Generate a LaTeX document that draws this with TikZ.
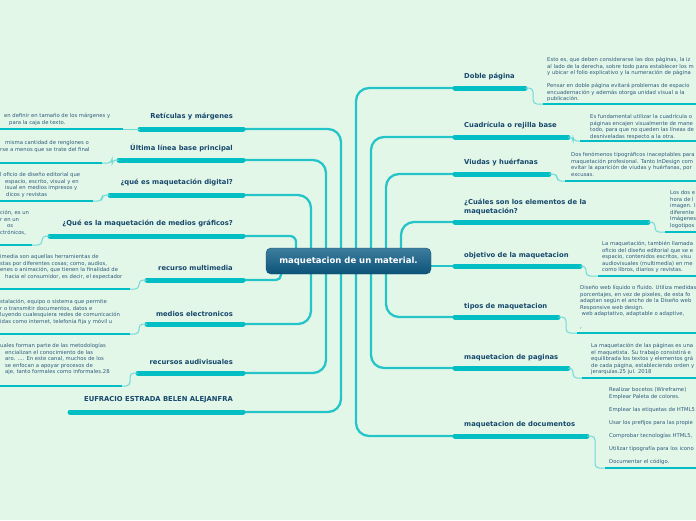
\documentclass[tikz,border=0pt]{standalone}
\usepackage{fontspec}
\setmainfont{DejaVu Sans}
\usepackage{tikz}
\usetikzlibrary{calc, backgrounds}
\definecolor{bgmint}{RGB}{227,247,233}
\definecolor{barteal}{RGB}{0,190,196}
\definecolor{branchteal}{RGB}{36,196,201}
\definecolor{twigteal}{RGB}{110,218,216}
\definecolor{topicblue}{RGB}{22,72,108}
\definecolor{noteblue}{RGB}{46,90,122}
\definecolor{roottop}{RGB}{62,126,158}
\definecolor{rootbot}{RGB}{12,82,120}

\begin{document}
\begin{tikzpicture}[x=1pt, y=-1pt,
  root/.style={rectangle, rounded corners=5pt, minimum width=165pt, minimum height=26pt, top color=roottop, bottom color=rootbot, draw=rootbot, text=white, font=\fontsize{8.5}{10}\selectfont\bfseries},
  topic/.style={inner sep=0pt, text=topicblue, font=\fontsize{6.8}{9}\selectfont\bfseries, align=left},
  note/.style={inner sep=0pt, anchor=north west, text=noteblue, font=\fontsize{5.3}{6.5}\selectfont, align=left},
  bar/.style={line width=5pt, line cap=round, barteal},
  branch/.style={line width=2.3pt, branchteal, rounded corners=13pt},
  twig/.style={line width=1pt, twigteal, rounded corners=4pt},
  uline/.style={line width=1.8pt, barteal}
]
\useasboundingbox (0,0) rectangle (696,520);

% Bar ends, right side
\coordinate (dp-l) at (455,88);  \coordinate (dp-r) at (525,88);  \coordinate (dp-u) at (543,104);
\coordinate (cu-l) at (455,137); \coordinate (cu-r) at (568,137); \coordinate (cu-u) at (580,141);
\coordinate (vh-l) at (455,174); \coordinate (vh-r) at (549,174); \coordinate (vh-u) at (565,181);
\coordinate (el-l) at (455,222); \coordinate (el-r) at (648,222); \coordinate (el-u) at (665,232);
\coordinate (ob-l) at (455,266); \coordinate (ob-r) at (580,266); \coordinate (ob-u) at (598,276);
\coordinate (ti-l) at (455,317); \coordinate (ti-r) at (558,317); \coordinate (ti-u) at (577,333);
\coordinate (mp-l) at (455,368); \coordinate (mp-r) at (568,368); \coordinate (mp-u) at (582,378);
\coordinate (md-l) at (455,436); \coordinate (md-r) at (587,436); \coordinate (md-u) at (605,468);

% Bar ends, left side
\coordinate (rm-l) at (140,129);  \coordinate (rm-r) at (243,129);  \coordinate (rm-u) at (123,129);
\coordinate (ul-l) at (119,160);  \coordinate (ul-r) at (243,160);  \coordinate (ul-u) at (102,163);
\coordinate (qd-l) at (110,195);  \coordinate (qd-r) at (243,195);  \coordinate (qd-u) at (93,201);
\coordinate (qg-l) at (50,236);   \coordinate (qg-r) at (243,236);  \coordinate (qg-u) at (32,245);
\coordinate (rmu-l) at (147,280); \coordinate (rmu-r) at (243,280); \coordinate (rmu-u) at (130,289);
\coordinate (me-l) at (147,324);  \coordinate (me-r) at (243,324);  \coordinate (me-u) at (130,334);
\coordinate (ra-l) at (138,373);  \coordinate (ra-r) at (243,373);  \coordinate (ra-u) at (122,386);
\coordinate (au-l) at (70,412);   \coordinate (au-r) at (243,412);

% Central node
\node[root] (root) at (348.5,261) {maquetacion de un material.};

% Branches from the centre
\begin{scope}[on background layer]
\fill[bgmint] (0,0) rectangle (696,520);
\draw[branch] ([xshift=7.5pt]root.north) |- (dp-l);
\draw[branch] ([xshift=22.5pt]root.north) |- (cu-l);
\draw[branch] ([xshift=37.5pt]root.north) |- (vh-l);
\draw[branch] ([xshift=52.5pt]root.north) |- (el-l);
\draw[branch] (root.east |- ob-l) -- (ob-l);
\draw[branch] ([xshift=37.5pt]root.south) |- (ti-l);
\draw[branch] ([xshift=22.5pt]root.south) |- (mp-l);
\draw[branch] ([xshift=7.5pt]root.south) |- (md-l);
\draw[branch] ([xshift=-7.5pt]root.north) |- (rm-r);
\draw[branch] ([xshift=-22.5pt]root.north) |- (ul-r);
\draw[branch] ([xshift=-37.5pt]root.north) |- (qd-r);
\draw[branch, rounded corners=6pt] ([xshift=-52.5pt]root.north) |- (qg-r);
\draw[branch, rounded corners=5pt] ([xshift=-67.5pt]root.south) |- (rmu-r);
\draw[branch] ([xshift=-37.5pt]root.south) |- (me-r);
\draw[branch] ([xshift=-22.5pt]root.south) |- (ra-r);
\draw[branch] ([xshift=-7.5pt]root.south) |- (au-r);
\end{scope}

% Topic bars
\draw[bar] (dp-l) -- (dp-r);
\draw[bar] (cu-l) -- (cu-r);
\draw[bar] (vh-l) -- (vh-r);
\draw[bar] (el-l) -- (el-r);
\draw[bar] (ob-l) -- (ob-r);
\draw[bar] (ti-l) -- (ti-r);
\draw[bar] (mp-l) -- (mp-r);
\draw[bar] (md-l) -- (md-r);
\draw[bar] (rm-l) -- (rm-r);
\draw[bar] (ul-l) -- (ul-r);
\draw[bar] (qd-l) -- (qd-r);
\draw[bar] (qg-l) -- (qg-r);
\draw[bar] (rmu-l) -- (rmu-r);
\draw[bar] (me-l) -- (me-r);
\draw[bar] (ra-l) -- (ra-r);
\draw[bar] (au-l) -- (au-r);

% Bars to notes
\draw[twig] (dp-r) -- ++(8,0) |- (dp-u);
\draw[twig] (cu-r) -- ++(5,0) |- (cu-u);
\draw[twig] (vh-r) -- ++(8,0) |- (vh-u);
\draw[twig] (el-r) -- ++(7,0) |- (el-u);
\draw[twig] (ob-r) -- ++(6,0) |- (ob-u);
\draw[twig] (ti-r) -- ++(8,0) |- (ti-u);
\draw[twig] (mp-r) -- ++(5,0) |- (mp-u);
\draw[twig] (md-r) -- ++(8,0) |- (md-u);
\draw[twig] (rm-l) -- (rm-u);
\draw[twig] (ul-l) -- ++(-7,0) |- (ul-u);
\draw[twig] (qd-l) -- ++(-8,0) |- (qd-u);
\draw[twig] (qg-l) -- ++(-8,0) |- (qg-u);
\draw[twig] (rmu-l) -- ++(-8,0) |- (rmu-u);
\draw[twig] (me-l) -- ++(-8,0) |- (me-u);
\draw[twig] (ra-l) -- ++(-8,0) |- (ra-u);

% Note underlines
\draw[uline] (dp-u) -- ++(160,0);
\draw[uline] (cu-u) -- ++(120,0);
\draw[uline] (vh-u) -- ++(140,0);
\draw[uline] (el-u) -- ++(40,0);
\draw[uline] (ob-u) -- ++(100,0);
\draw[uline] (ti-u) -- ++(120,0);
\draw[uline] (mp-u) -- ++(120,0);
\draw[uline] (md-u) -- ++(100,0);
\draw[uline] (rm-u) -- ++(-130,0);
\draw[uline] (ul-u) -- ++(-110,0);
\draw[uline] (qd-u) -- ++(-100,0);
\draw[uline] (qg-u) -- ++(-40,0);
\draw[uline] (rmu-u) -- ++(-140,0);
\draw[uline] (me-u) -- ++(-140,0);
\draw[uline] (ra-u) -- ++(-130,0);

% Topics, right
\node[topic, anchor=west] (dp) at (464,77) {Doble página};
\node[topic, anchor=west] (cu) at (464,126) {Cuadrícula o rejilla base};
\node[topic, anchor=west] (vh) at (464,163) {Viudas y huérfanas};
\node[topic, anchor=north west] (el) at (464,199) {¿Cuáles son los elementos de la\\maquetación?};
\node[topic, anchor=west] (ob) at (464,256) {objetivo de la maquetacion};
\node[topic, anchor=west] (ti) at (464,307) {tipos de maquetacion};
\node[topic, anchor=west] (mp) at (464,358) {maquetacion de paginas};
\node[topic, anchor=west] (md) at (464,425) {maquetacion de documentos};

% Topics, left
\node[topic, anchor=east] (rm) at (233,117) {Retículas y márgenes};
\node[topic, anchor=east] (ul) at (233,148) {Última línea base principal};
\node[topic, anchor=east] (qd) at (233,183) {¿qué es maquetación digital?};
\node[topic, anchor=east] (qg) at (233,224) {¿Qué es la maquetación de medios gráficos?};
\node[topic, anchor=east] (rmu) at (233,268) {recurso multimedia};
\node[topic, anchor=east] (me) at (233,314) {medios electronicos};
\node[topic, anchor=east] (ra) at (233,362) {recursos audivisuales};
\node[topic, anchor=east] (au) at (233,400) {EUFRACIO ESTRADA BELEN ALEJANFRA};

% Notes, right
\node[note] (dpN) at (547,57.5) {Esto es, que deben considerarse las dos páginas, la iz\\al lado de la derecha, sobre todo para establecer los m\\y ubicar el folio explicativo y la numeración de página\\[6.5pt]Pensar en doble página evitará problemas de espacio\\encuadernación y además otorga unidad visual a la\\publicación.};
\node[note] (cuN) at (590,114.5) {Es fundamental utilizar la cuadrícula o\\páginas encajen visualmente de mane\\todo, para que no queden las líneas de\\desniveladas respecto a la otra.};
\node[note] (vhN) at (571,152.5) {Dos fenómenos tipográficos inaceptables para\\maquetación profesional. Tanto InDesign com\\evitar la aparición de viudas y huérfanas, por\\excusas.};
\node[note] (elN) at (670,190.5) {Los dos e\\hora de l\\imagen. I\\diferente\\Imágenes\\logotipos};
\node[note] (obN) at (602,241.5) {La maquetación, también llamada\\oficio del diseño editorial que se e\\espacio, contenidos escritos, visu\\audiovisuales (multimedia) en me\\como libros, diarios y revistas.};
\node[note] (tiN) at (580,285.5) {Diseño web líquido o fluido. Utiliza medidas\\porcentajes, en vez de pixeles, de esta fo\\adaptan según el ancho de la Diseño web\\Responsive web design.\\\hspace*{1.5pt}web adaptativo, adaptable o adaptive,\\[6.5pt],};
\node[note] (mpN) at (591,343.5) {La maquetación de las páginas es una\\el maquetista. Su trabajo consistirá e\\equilibrada los textos y elementos grá\\de cada página, estableciendo orden y\\jerarquías.25 jul. 2018};
\node[note] (mdN) at (609,387.5) {Realizar bocetos (Wireframe)\\Emplear Paleta de colores.\\[6.5pt]Emplear las etiquetas de HTML5\\[6.5pt]Usar los prefijos para las propie\\[6.5pt]Comprobar tecnologías HTML5,\\[6.5pt]Utilizar tipografía para los icono\\[6.5pt]Documentar el código.};

% Notes, left
\node[note] (rmN) at (0,113.5) {\hspace*{4pt}en definir en tamaño de los márgenes y\\\hspace*{9pt}para la caja de texto.};
\node[note] (ulN) at (0,140.5) {\hspace*{5pt}misma cantidad de renglones o\\rse a menos que se trate del final};
\node[note] (qdN) at (0,172.5) {l oficio de diseño editorial que\\\hspace*{5pt}espacio, escrito, visual y en\\\hspace*{5pt}isual en medios impresos y\\\hspace*{6pt}dicos y revistas};
\node[note] (qgN) at (0,210.5) {ción, es un\\r en un\\\hspace*{7pt}os\\ctrónicos,};
\node[note] (rmuN) at (0,254.5) {imedia son aquellas herramientas de\\stas por diferentes cosas; como, audios,\\enes o animación, que tienen la finalidad de\\\hspace*{5pt}hacia el consumidor, es decir, el espectador};
\node[note] (meN) at (0,299.5) {stalación, equipo o sistema que permite\\r o transmitir documentos, datos e\\luyendo cualesquiera redes de comunicación\\idas como internet, telefonía fija y móvil u};
\node[note] (raN) at (0,343.5) {uales forman parte de las metodologías\\\hspace*{5pt}encializan el conocimiento de las\\\hspace*{5pt}aro. .... En este canal, muchos de los\\\hspace*{5pt}se enfocan a apoyar procesos de\\\hspace*{5pt}aje, tanto formales como informales.28};
\end{tikzpicture}
\end{document}
